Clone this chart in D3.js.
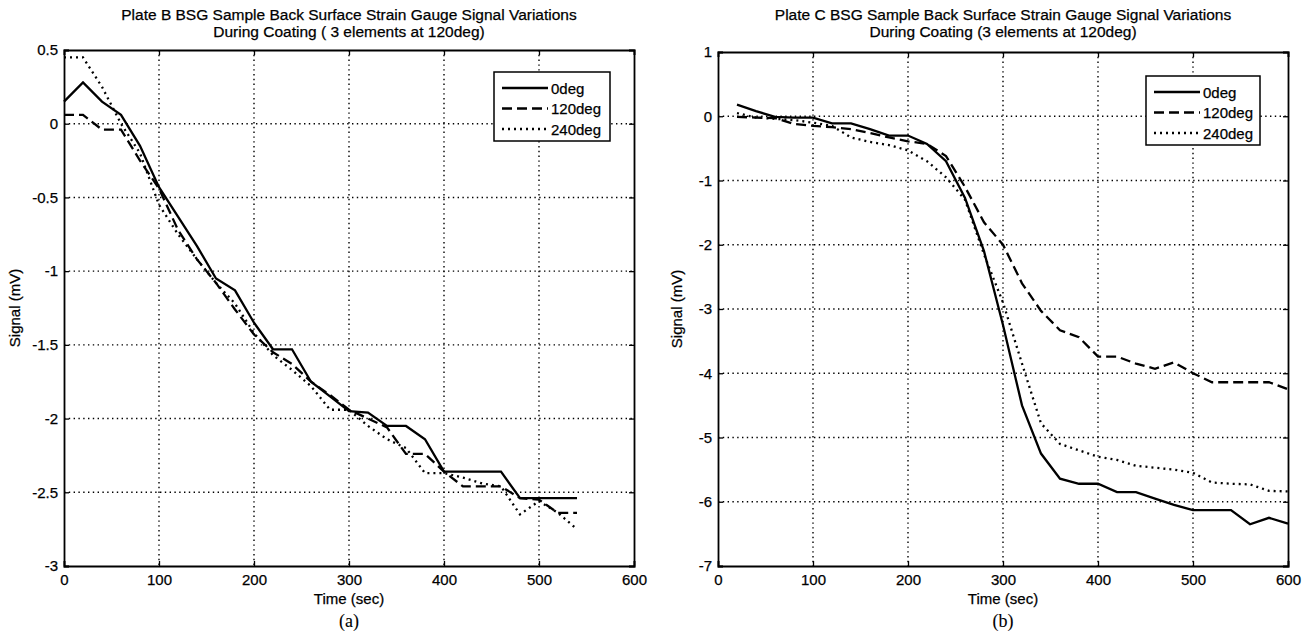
<!DOCTYPE html>
<html>
<head>
<meta charset="utf-8">
<script src="https://cdn.jsdelivr.net/npm/d3@7"></script>
<style>
  body { margin: 0; background: #fff; }
  svg text { font-family: "Liberation Sans", Arial, sans-serif; fill: #000; stroke: #000; stroke-width: 0.25px; }
</style>
</head>
<body>
<script>
// Data (time in sec, signal in mV)
const timeB = [0, 20, 40, 60, 80, 100, 120, 140, 160, 180, 200, 220, 240, 260, 280, 300, 320, 340, 360, 380, 400, 420, 440, 460, 480, 500, 520, 540]
const b0deg = [0.15, 0.28, 0.15, 0.06, -0.15, -0.43, -0.63, -0.83, -1.05, -1.13, -1.35, -1.53, -1.53, -1.75, -1.85, -1.95, -1.96, -2.05, -2.05, -2.14, -2.36, -2.36, -2.36, -2.36, -2.54, -2.54, -2.54, -2.54]
const b120deg = [0.06, 0.06, -0.04, -0.04, -0.25, -0.44, -0.72, -0.92, -1.08, -1.26, -1.43, -1.55, -1.63, -1.75, -1.84, -1.94, -2.0, -2.06, -2.24, -2.24, -2.36, -2.46, -2.46, -2.46, -2.54, -2.55, -2.64, -2.64]
const b240deg = [0.45, 0.45, 0.25, 0.0, -0.2, -0.55, -0.75, -0.92, -1.08, -1.22, -1.42, -1.57, -1.67, -1.78, -1.94, -1.94, -2.05, -2.14, -2.2, -2.37, -2.37, -2.4, -2.44, -2.46, -2.65, -2.56, -2.64, -2.75]

const timeC = [20, 40, 60, 80, 100, 120, 140, 160, 180, 200, 220, 240, 260, 280, 300, 320, 340, 360, 380, 400, 420, 440, 460, 480, 500, 520, 540, 560, 580, 600]
const c0deg = [0.18, 0.08, -0.01, -0.02, -0.02, -0.11, -0.11, -0.2, -0.3, -0.3, -0.43, -0.7, -1.27, -2.1, -3.25, -4.5, -5.25, -5.64, -5.72, -5.72, -5.85, -5.85, -5.95, -6.05, -6.13, -6.13, -6.13, -6.35, -6.25, -6.34]
const c120deg = [-0.01, -0.02, -0.03, -0.12, -0.15, -0.17, -0.2, -0.26, -0.33, -0.39, -0.43, -0.62, -1.1, -1.65, -2.0, -2.6, -3.03, -3.33, -3.44, -3.74, -3.74, -3.85, -3.93, -3.83, -4.0, -4.14, -4.14, -4.14, -4.14, -4.25]
const c240deg = [0.05, -0.02, -0.04, -0.06, -0.1, -0.15, -0.33, -0.4, -0.45, -0.53, -0.7, -0.95, -1.3, -2.15, -2.9, -3.85, -4.78, -5.1, -5.2, -5.3, -5.35, -5.44, -5.47, -5.5, -5.55, -5.7, -5.72, -5.73, -5.83, -5.84]

const xTicks = [0, 100, 200, 300, 400, 500, 600]
const yTicksB = [0.5, 0, -0.5, -1, -1.5, -2, -2.5, -3]
const yTicksC = [1, 0, -1, -2, -3, -4, -5, -6, -7]
const seriesNames = ['0deg', '120deg', '240deg']

const dashes = [null, '10,5', '2,4']

const svg = d3.select('body').append('svg')
  .attr('width', 1310)
  .attr('height', 639)

const drawPanel = (cfg) => {
  const { left, right, top, bottom } = cfg
  const x = d3.scaleLinear().domain([0, 600]).range([left, right])
  const y = d3.scaleLinear().domain(cfg.yDomain).range([top, bottom])
  const g = svg.append('g')

  // grid
  g.selectAll('.vgrid').data(xTicks.slice(1, -1)).enter().append('line')
    .attr('x1', d => x(d)).attr('x2', d => x(d))
    .attr('y1', top).attr('y2', bottom)
    .attr('stroke', '#000').attr('stroke-width', 1.4).attr('stroke-dasharray', '1.4,3.4')
  g.selectAll('.hgrid').data(cfg.yTicks.slice(1, -1)).enter().append('line')
    .attr('x1', left).attr('x2', right)
    .attr('y1', d => y(d)).attr('y2', d => y(d))
    .attr('stroke', '#000').attr('stroke-width', 1.4).attr('stroke-dasharray', '1.4,3.4')

  // axes with inward ticks, plain hyphen for negatives
  const fmt = d => String(d)
  g.append('g').attr('transform', `translate(0,${bottom})`)
    .call(d3.axisBottom(x).tickValues(xTicks).tickSize(-5).tickPadding(8).tickFormat(fmt))
  g.append('g').attr('transform', `translate(0,${top})`)
    .call(d3.axisTop(x).tickValues(xTicks).tickSize(-5).tickFormat(''))
  g.append('g').attr('transform', `translate(${left},0)`)
    .call(d3.axisLeft(y).tickValues(cfg.yTicks).tickSize(-5).tickPadding(6).tickFormat(fmt))
  g.append('g').attr('transform', `translate(${right},0)`)
    .call(d3.axisRight(y).tickValues(cfg.yTicks).tickSize(-5).tickFormat(''))
  g.selectAll('.domain').attr('stroke', '#000').attr('stroke-width', 1.8)
  g.selectAll('.tick line').attr('stroke', '#000').attr('stroke-width', 1.3)
  g.selectAll('.tick text').style('font-size', '15px').attr('fill', '#000')

  // lines
  const line = d3.line().x(d => x(d[0])).y(d => y(d[1]))
  cfg.series.forEach((vals, i) => {
    g.append('path')
      .datum(cfg.time.map((t, j) => [t, vals[j]]))
      .attr('d', line)
      .attr('fill', 'none')
      .attr('stroke', '#000')
      .attr('stroke-width', 2.3)
      .attr('stroke-dasharray', dashes[i])
  })

  // title
  const cx = (left + right) / 2
  cfg.title.forEach((t, i) => {
    g.append('text').attr('x', cx).attr('y', 20 + i * 17)
      .attr('text-anchor', 'middle').style('font-size', '15.5px').text(t)
  })

  // axis labels
  g.append('text').attr('x', cx).attr('y', 604)
    .attr('text-anchor', 'middle').style('font-size', '15px').text('Time (sec)')
  g.append('text')
    .attr('transform', `translate(${cfg.ylabelX},${(top + bottom) / 2}) rotate(-90)`)
    .attr('text-anchor', 'middle').style('font-size', '15px').text('Signal (mV)')

  // caption
  g.append('text').attr('x', cx).attr('y', 627)
    .attr('text-anchor', 'middle')
    .style('font-family', '"Liberation Serif", "Times New Roman", serif')
    .style('stroke-width', '0.1px')
    .style('font-size', '18px').text(cfg.caption)

  // legend
  const lg = cfg.legend
  g.append('rect')
    .attr('x', lg.x).attr('y', lg.y).attr('width', lg.w).attr('height', lg.h)
    .attr('fill', '#fff').attr('stroke', '#000').attr('stroke-width', 1.5)
  seriesNames.forEach((name, i) => {
    const ly = lg.y + 16 + i * 20.5
    g.append('line')
      .attr('x1', lg.x + 8).attr('x2', lg.x + 54)
      .attr('y1', ly).attr('y2', ly)
      .attr('stroke', '#000').attr('stroke-width', 2.3)
      .attr('stroke-dasharray', dashes[i])
    g.append('text').attr('x', lg.x + 57).attr('y', ly + 5.5)
      .style('font-size', '15px').text(name)
  })
}

drawPanel({
  left: 64, right: 634, top: 50, bottom: 566,
  yDomain: [0.5, -3], yTicks: yTicksB, ylabelX: 20,
  time: timeB, series: [b0deg, b120deg, b240deg],
  title: ['Plate B BSG Sample Back Surface Strain Gauge Signal Variations', 'During Coating ( 3 elements at 120deg)'],
  caption: '(a)',
  legend: { x: 494, y: 72, w: 116, h: 69 }
})

drawPanel({
  left: 718, right: 1288, top: 52, bottom: 566,
  yDomain: [1, -7], yTicks: yTicksC, ylabelX: 682,
  time: timeC, series: [c0deg, c120deg, c240deg],
  title: ['Plate C BSG Sample Back Surface Strain Gauge Signal Variations', 'During Coating (3 elements at 120deg)'],
  caption: '(b)',
  legend: { x: 1146, y: 76, w: 114, h: 69 }
})
</script>
</body>
</html>
